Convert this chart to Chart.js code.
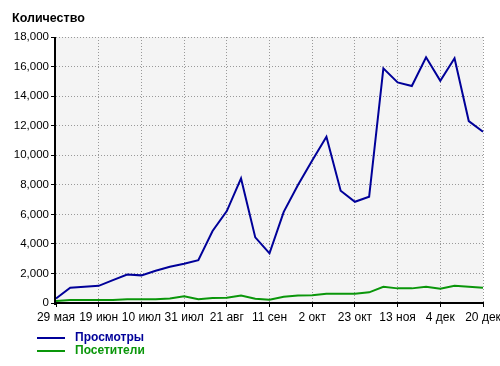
<!DOCTYPE html>
<html>
<head>
<meta charset="utf-8">
<script src="https://cdn.jsdelivr.net/npm/chart.js@4"></script>
<style>
  body { margin: 0; background: #fff; }
  #wrap { position: relative; width: 500px; height: 366px; font-family: Arial, "Liberation Sans", sans-serif; }
  #chart { position: absolute; left: 0; top: 0; }
  .title { position: absolute; left: 12px; top: 11px; font-size: 12.5px; font-weight: bold; color: #000; }
  .legend { position: absolute; left: 37px; font-size: 12px; font-weight: bold; line-height: 14px; }
  .legend span.sw { display: inline-block; width: 28px; height: 2px; vertical-align: middle; margin-right: 10px; }
</style>
</head>
<body>
<div id="wrap">
  <canvas id="chart" width="500" height="366"></canvas>
  <div class="title">Количество</div>
  <div class="legend" id="lg0" style="top:330px"></div>
  <div class="legend" id="lg1" style="top:343px"></div>
</div>
<script>
// weekly points, a label every third week (last one is a partial week)
const WEEKS = [
  '29 мая', '5 июн', '12 июн', '19 июн', '26 июн', '3 июл', '10 июл', '17 июл',
  '24 июл', '31 июл', '7 авг', '14 авг', '21 авг', '28 авг', '4 сен', '11 сен',
  '18 сен', '25 сен', '2 окт', '9 окт', '16 окт', '23 окт', '30 окт', '6 ноя',
  '13 ноя', '20 ноя', '27 ноя', '4 дек', '11 дек', '18 дек', '20 дек'
];

const VIEWS = [
  300, 1030, 1100, 1160, 1550, 1930, 1870, 2180, 2450, 2650, 2900, 4870,
  6220, 8430, 4440, 3360, 6170, 7980, 9650, 11250, 7600, 6850, 7190, 15880,
  14930, 14680, 16630, 15040, 16560, 12310, 11590
];

const VISITORS = [
  130, 200, 200, 200, 200, 260, 260, 260, 310, 450, 260, 330,
  350, 510, 290, 220, 420, 510, 530, 620, 620, 620, 720, 1100,
  990, 990, 1100, 960, 1165, 1100, 1030
];

const SERIES_NAMES = ['Просмотры', 'Посетители'];
const BLUE  = '#000099';
const GREEN = '#0a960a';
const GRID  = '#999999';

const Y_MAX  = 18000;
const Y_STEP = 2000;

const isShown = i => i % 3 === 0 || i === WEEKS.length - 1;

// plot background + black axis lines
const plotFrame = {
  id: 'plotFrame',
  beforeDraw(chart) {
    const { ctx, chartArea: a } = chart;
    ctx.save();
    ctx.fillStyle = '#f4f4f4';
    ctx.fillRect(a.left, a.top, a.right - a.left, a.bottom - a.top);
    ctx.restore();
  },
  afterDraw(chart) {
    const { ctx, chartArea: a } = chart;
    ctx.save();
    ctx.fillStyle = '#000';
    ctx.fillRect(a.left - 2, a.top, 2, a.bottom - a.top + 2);
    ctx.fillRect(a.left - 2, a.bottom - 1, a.right - a.left + 3, 2);
    ctx.restore();
  }
};

const colors = [BLUE, GREEN];
SERIES_NAMES.forEach((name, i) => {
  const el = document.getElementById('lg' + i);
  el.style.color = colors[i];
  el.innerHTML = '<span class="sw" style="background:' + colors[i] + '"></span>' + name;
});

new Chart(document.getElementById('chart').getContext('2d'), {
  type: 'line',
  data: {
    labels: WEEKS,
    datasets: [
      { label: SERIES_NAMES[0], data: VIEWS,    borderColor: BLUE,  borderWidth: 2, pointRadius: 0, tension: 0, fill: false, order: 1 },
      { label: SERIES_NAMES[1], data: VISITORS, borderColor: GREEN, borderWidth: 2, pointRadius: 0, tension: 0, fill: false, order: 2 }
    ]
  },
  options: {
    responsive: false,
    animation: false,
    devicePixelRatio: 1,
    layout: { padding: { left: 0, right: 17, top: 37, bottom: 0 } },
    plugins: { legend: { display: false }, tooltip: { enabled: false } },
    scales: {
      x: {
        grid: {
          color: c => isShown(c.index) && c.index > 0 ? GRID : 'transparent',
          tickColor: c => isShown(c.index) ? '#000' : 'transparent',
          tickLength: 4,
          lineWidth: 1
        },
        border: { display: false, dash: [1, 2] },
        ticks: {
          autoSkip: false,
          maxRotation: 0,
          padding: 3,
          color: '#000',
          font: { family: 'Arial, "Liberation Sans"', size: 12 },
          callback: (v, i) => isShown(i) ? WEEKS[i] : ''
        },
        afterFit(scale) {
          scale.height = 63;
          scale.paddingLeft = 0;
          scale.paddingRight = 0;
        }
      },
      y: {
        min: 0,
        max: Y_MAX,
        grid: {
          color: c => c.tick && c.tick.value > 0 ? GRID : 'transparent',
          tickColor: '#000',
          tickLength: 5
        },
        border: { display: false, dash: [1, 2] },
        ticks: {
          stepSize: Y_STEP,
          padding: 2,
          color: '#000',
          font: { family: 'Arial, "Liberation Sans"', size: 11.5 },
          callback: v => v.toLocaleString('en-US')
        },
        afterFit(scale) {
          scale.width = 56;
          scale.paddingTop = 0;
          scale.paddingBottom = 0;
        }
      }
    }
  },
  plugins: [plotFrame]
});
</script>
</body>
</html>
